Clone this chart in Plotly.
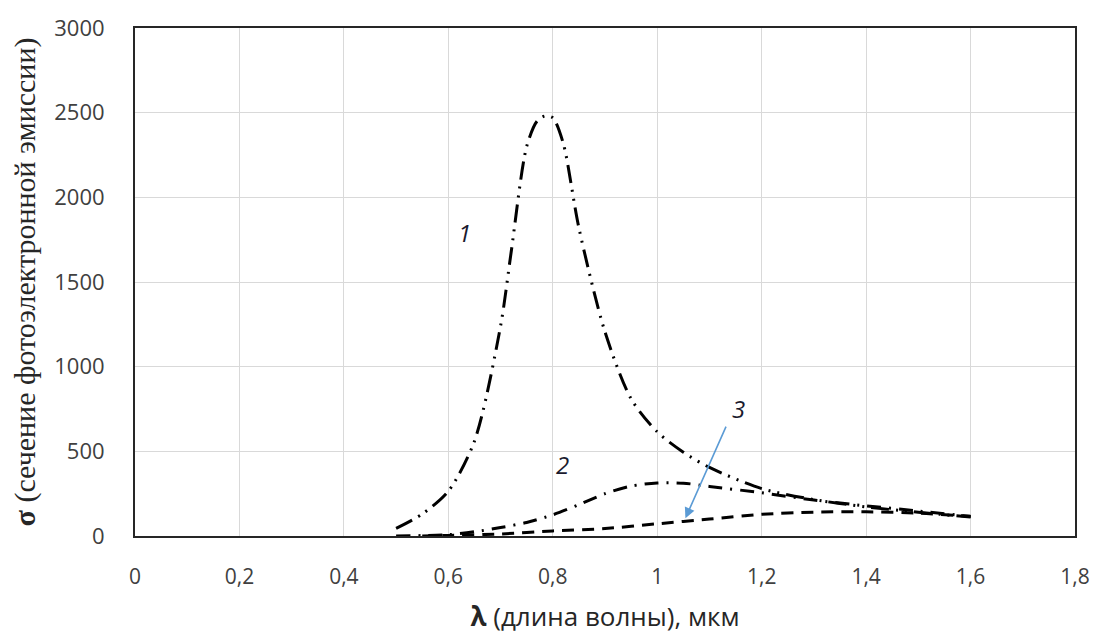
import plotly.graph_objects as go

# Curve 1 (long dash - dot - dot)
x1 = [0.5, 0.55, 0.6, 0.65, 0.7, 0.72, 0.75, 0.77, 0.785, 0.8, 0.82, 0.85, 0.9, 0.95, 1.0, 1.05, 1.1, 1.2, 1.3, 1.4, 1.5, 1.6]
y1 = [45, 130, 265, 560, 1240, 1670, 2300, 2450, 2480, 2470, 2320, 1820, 1205, 810, 615, 495, 405, 280, 215, 172, 140, 112]

# Curve 2 (dash - dot)
x2 = [0.5, 0.6, 0.65, 0.7, 0.75, 0.8, 0.85, 0.9, 0.95, 1.0, 1.05, 1.1, 1.2, 1.3, 1.4, 1.5, 1.6]
y2 = [0, 8, 25, 50, 80, 125, 185, 250, 295, 313, 312, 293, 255, 212, 178, 148, 115]

# Curve 3 (dashed)
x3 = [0.55, 0.6, 0.7, 0.8, 0.9, 1.0, 1.1, 1.2, 1.3, 1.4, 1.5, 1.6]
y3 = [0, 3, 12, 30, 44, 72, 100, 128, 141, 143, 135, 116]

x_tickvals = [0, 0.2, 0.4, 0.6, 0.8, 1.0, 1.2, 1.4, 1.6, 1.8]
x_ticktext = ["0", "0,2", "0,4", "0,6", "0,8", "1", "1,2", "1,4", "1,6", "1,8"]
y_tickvals = [0, 500, 1000, 1500, 2000, 2500, 3000]
y_ticktext = ["0", "500", "1000", "1500", "2000", "2500", "3000"]

curve_labels = ["1", "2", "3"]
label_x = [0.63, 0.818, 1.155]
label_y = [1790, 420, 755]
arrow_tail = (1.133, 655)
arrow_head = (1.054, 105)

fig = go.Figure()
line_w = 3
fig.add_trace(go.Scatter(x=x1, y=y1, mode="lines", line=dict(color="black", width=line_w, shape="spline", smoothing=0.8,
                                                         dash="18px,7px,2px,7px,2px,7px"), showlegend=False))
fig.add_trace(go.Scatter(x=x2, y=y2, mode="lines", line=dict(color="black", width=line_w, shape="spline", smoothing=0.8,
                                                         dash="14px,8px,2px,8px"), showlegend=False))
fig.add_trace(go.Scatter(x=x3, y=y3, mode="lines", line=dict(color="black", width=line_w, shape="spline", smoothing=0.8,
                                                         dash="12px,8px"), showlegend=False))

for t, lx, ly in zip(curve_labels, label_x, label_y):
    fig.add_annotation(x=lx, y=ly, text="<i>" + t + "</i>", showarrow=False,
                       font=dict(family="Open Sans", size=24, color="#1a1a2e"))

fig.add_annotation(x=arrow_head[0], y=arrow_head[1], ax=arrow_tail[0], ay=arrow_tail[1],
                   xref="x", yref="y", axref="x", ayref="y", text="", showarrow=True,
                   arrowhead=2, arrowsize=1.3, arrowwidth=1.6, arrowcolor="#5B9BD5")

fig.update_layout(
    width=1094, height=629,
    margin=dict(l=127, r=27, t=20, b=101),
    plot_bgcolor="white", paper_bgcolor="white",
    font=dict(family="Open Sans", color="#404040"),
)
fig.update_xaxes(range=[0, 1.8], tickvals=x_tickvals, ticktext=x_ticktext, automargin=False,
                 tickfont=dict(family="Open Sans", size=21, color="#404040"),
                 showgrid=True, gridcolor="#d9d9d9", gridwidth=1,
                 showline=True, linecolor="#262626", linewidth=2, mirror=True,
                 ticks="", ticklabelstandoff=21, zeroline=False,
                 title=dict(text="<b>λ</b> (длина волны), мкм",
                            font=dict(family="Open Sans", size=26, color="#262626"), standoff=19))
fig.update_yaxes(range=[0, 3000], tickvals=y_tickvals, ticktext=y_ticktext, automargin=False,
                 tickfont=dict(family="Open Sans", size=22, color="#404040"),
                 showgrid=True, gridcolor="#d9d9d9", gridwidth=1,
                 showline=True, linecolor="#262626", linewidth=2, mirror=True,
                 ticks="", ticklabelstandoff=24, zeroline=False,
                 title=dict(text="<b>σ</b> (сечение фотоэлектронной эмиссии)",
                            font=dict(family="Liberation Serif", size=30, color="#262626"), standoff=20))

fig.write_html("out.html")
